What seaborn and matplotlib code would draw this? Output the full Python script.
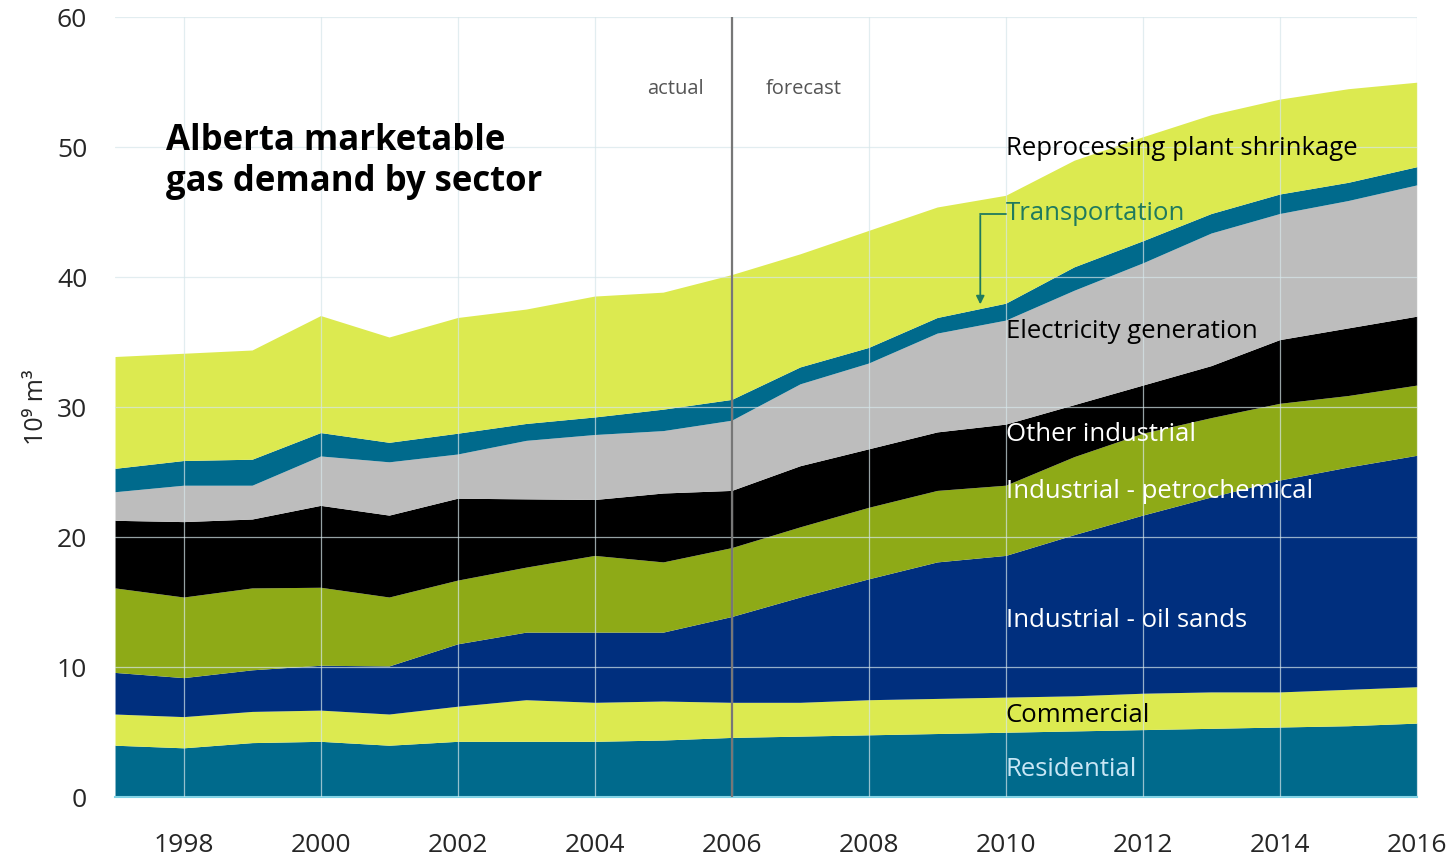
import matplotlib
matplotlib.use("Agg")
import matplotlib.pyplot as plt
import seaborn as sns
import pandas as pd

# Alberta marketable gas demand by sector, 10^9 m3
years = list(range(1997, 2017))
residential = [4.0, 3.8, 4.2, 4.3, 4.0, 4.3, 4.3, 4.3, 4.4, 4.6, 4.7, 4.8, 4.9, 5.0, 5.1, 5.2, 5.3, 5.4, 5.5, 5.7]
commercial = [2.4, 2.4, 2.4, 2.4, 2.4, 2.7, 3.2, 3.0, 3.0, 2.7, 2.6, 2.7, 2.7, 2.7, 2.7, 2.8, 2.8, 2.7, 2.8, 2.8]
oil_sands = [3.2, 3.0, 3.2, 3.45, 3.7, 4.8, 5.2, 5.4, 5.3, 6.6, 8.1, 9.3, 10.5, 10.9, 12.4, 13.7, 15.0, 16.3, 17.1, 17.8]
petrochemical = [6.5, 6.2, 6.3, 6.0, 5.3, 4.9, 5.0, 5.9, 5.4, 5.3, 5.4, 5.5, 5.5, 5.4, 6.0, 6.3, 6.1, 5.9, 5.5, 5.4]
other_industrial = [5.2, 5.8, 5.3, 6.3, 6.3, 6.3, 5.25, 4.3, 5.3, 4.4, 4.7, 4.5, 4.5, 4.7, 4.0, 3.7, 4.0, 4.9, 5.2, 5.3]
electricity = [2.2, 2.8, 2.6, 3.8, 4.1, 3.4, 4.5, 5.0, 4.8, 5.4, 6.3, 6.6, 7.6, 8.0, 8.8, 9.4, 10.2, 9.7, 9.8, 10.1]
transportation = [1.8, 1.9, 2.0, 1.8, 1.5, 1.6, 1.3, 1.35, 1.65, 1.6, 1.3, 1.2, 1.2, 1.3, 1.8, 1.7, 1.5, 1.5, 1.4, 1.4]
reprocessing = [8.6, 8.25, 8.4, 9.0, 8.1, 8.9, 8.8, 9.3, 9.0, 9.6, 8.7, 9.0, 8.5, 8.3, 8.2, 8.0, 7.6, 7.3, 7.2, 6.5]

sectors = ["Residential", "Commercial", "Industrial - oil sands", "Industrial - petrochemical",
           "Other industrial", "Electricity generation", "Transportation", "Reprocessing plant shrinkage"]
colors = ["#006a8c", "#dcea50", "#002f7e", "#8eaa17", "#000000", "#bdbdbd", "#006a8c", "#dcea50"]
label_colors = ["#c8e6f5", "black", "white", "white", "white", "black", "#1f7a5e", "black"]
label_y = [2.1, 6.3, 13.6, 23.5, 27.9, 35.8, 44.9, 49.9]

df = pd.DataFrame({
    "year": years,
    "Residential": residential,
    "Commercial": commercial,
    "Industrial - oil sands": oil_sands,
    "Industrial - petrochemical": petrochemical,
    "Other industrial": other_industrial,
    "Electricity generation": electricity,
    "Transportation": transportation,
    "Reprocessing plant shrinkage": reprocessing,
})

sns.set_theme(style="white")
plt.rcParams["font.family"] = ["Open Sans", "DejaVu Sans"]

fig = plt.figure(figsize=(14.56, 8.6), dpi=100)
ax = fig.add_axes([0.079, 0.073, 0.894, 0.907])

ax.stackplot(df["year"], [df[s] for s in sectors], colors=colors, linewidth=0)

ax.set_xlim(1997, 2016)
ax.set_ylim(0, 60)
ax.set_xticks(range(1998, 2017, 2))
ax.set_yticks(range(0, 61, 10))
ax.tick_params(axis="both", labelsize=19, length=0)
ax.tick_params(axis="y", pad=20)
ax.tick_params(axis="x", pad=26)
ax.set_axisbelow(False)
ax.grid(True, color="#d6e6ea", linewidth=0.9, alpha=0.7)
for side in ["top", "left", "right"]:
    ax.spines[side].set_visible(False)
ax.spines["bottom"].set_color("#7fd3e6")
ax.spines["bottom"].set_linewidth(1.5)

ax.set_ylabel("10⁹ m³", fontsize=18, labelpad=6)

# actual / forecast divider
ax.axvline(2006, color="#777777", linewidth=1.6, zorder=4)
ax.text(2005.6, 54.5, "actual", fontsize=14.5, color="#555555", ha="right", va="center")
ax.text(2006.5, 54.5, "forecast", fontsize=14.5, color="#555555", ha="left", va="center")

ax.text(1997.75, 48.9, "Alberta marketable\ngas demand by sector", fontsize=25,
        fontweight="bold", color="black", ha="left", va="center", linespacing=1.2)

for name, c, y in zip(sectors, label_colors, label_y):
    ax.text(2010, y, name, fontsize=18.5, color=c, ha="left", va="center", zorder=5)

# Transportation pointer
ax.plot([2010, 2009.63], [44.9, 44.9], color="#1f7a5e", linewidth=1.3, zorder=5)
ax.annotate("", xy=(2009.63, 37.7), xytext=(2009.63, 44.95),
            arrowprops=dict(arrowstyle="-|>", color="#1f7a5e", lw=1.3, mutation_scale=12),
            zorder=5)

fig.savefig("out.png", dpi=100)
